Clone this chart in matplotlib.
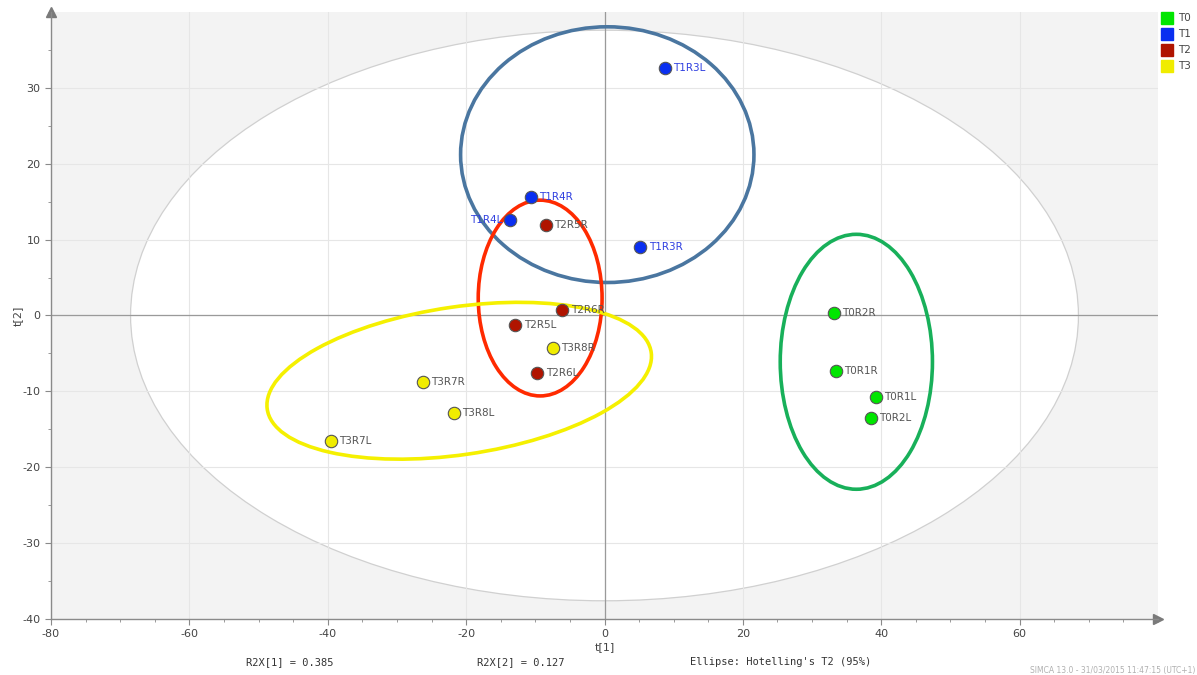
import numpy as np
import matplotlib.pyplot as plt
from matplotlib.patches import Ellipse, Rectangle
from matplotlib.ticker import MultipleLocator

plt.rcParams["axes.unicode_minus"] = False

# Score values t[1], t[2] per observation
names = ["T0R2R", "T0R1R", "T0R1L", "T0R2L",
         "T1R3L", "T1R4R", "T1R4L", "T1R3R",
         "T2R5R", "T2R6R", "T2R5L", "T2R6L",
         "T3R8R", "T3R7R", "T3R8L", "T3R7L"]
groups = ["T0"] * 4 + ["T1"] * 4 + ["T2"] * 4 + ["T3"] * 4
t1 = [33.1, 33.4, 39.2, 38.5,
      8.7, -10.6, -13.6, 5.2,
      -8.5, -6.1, -12.9, -9.7,
      -7.5, -26.2, -21.8, -39.6]
t2 = [0.3, -7.3, -10.7, -13.5,
      32.6, 15.6, 12.6, 9.0,
      11.9, 0.7, -1.3, -7.6,
      -4.3, -8.8, -12.8, -16.6]

group_names = ["T0", "T1", "T2", "T3"]
group_colors = {"T0": "#00e600", "T1": "#0a2ff0", "T2": "#b01400", "T3": "#f0ec00"}
label_colors = {"T0": "#555555", "T1": "#3040e0", "T2": "#555555", "T3": "#555555"}

# Hotelling's T2 (95%) semi-axes
hot_a, hot_b = 68.5, 37.6

# hand-drawn group outlines: center x, center y, width, height, angle
group_ellipses = {
    "T1": (0.4, 21.2, 42.4, 33.7, 0, "#4a76a0"),
    "T2": (-9.3, 2.3, 17.9, 25.8, 0, "#ff2a00"),
    "T3": (-21.0, -8.6, 56.0, 19.5, 7.5, "#f5f000"),
    "T0": (36.4, -6.1, 22.0, 33.6, 0, "#18b05a"),
}

fig = plt.figure(figsize=(11.97, 6.75), dpi=100)
ax = fig.add_axes([51 / 1197, 1 - 619 / 675, (1158 - 51) / 1197, (619 - 12) / 675])
ax.set_facecolor("#f3f3f3")
ax.set_xlim(-80, 80)
ax.set_ylim(-40, 40)

# white interior of the confidence ellipse
ax.add_patch(Ellipse((0, 0), 2 * hot_a, 2 * hot_b, facecolor="white",
                     edgecolor="#d0d0d0", lw=0.9, zorder=0.5))

ax.xaxis.set_major_locator(MultipleLocator(20))
ax.xaxis.set_minor_locator(MultipleLocator(5))
ax.yaxis.set_major_locator(MultipleLocator(10))
ax.yaxis.set_minor_locator(MultipleLocator(5))
ax.grid(True, which="major", color="#e6e6e6", lw=0.8, zorder=0.6)
ax.set_axisbelow(True)
ax.axhline(0, color="#9a9a9a", lw=0.9, zorder=0.7)
ax.axvline(0, color="#9a9a9a", lw=0.9, zorder=0.7)

for side in ["top", "right"]:
    ax.spines[side].set_visible(False)
for side in ["left", "bottom"]:
    ax.spines[side].set_color("#8a8a8a")
    ax.spines[side].set_linewidth(1.0)
ax.tick_params(which="both", colors="#8a8a8a", labelcolor="#444444",
               labelsize=8, direction="out")
ax.tick_params(which="major", length=4)
ax.tick_params(which="minor", length=2.5)
ax.set_xticks(np.arange(-80, 61, 20))
ax.set_yticks(np.arange(-40, 31, 10))
# arrow heads on the axes
ax.plot(1, 0, ">", transform=ax.transAxes, color="#7a7a7a", ms=7, clip_on=False)
ax.plot(0, 1, "^", transform=ax.transAxes, color="#7a7a7a", ms=7, clip_on=False)

ax.set_xlabel("t[1]", fontsize=8, color="#444444", labelpad=2)
ax.set_ylabel("t[2]", fontsize=8, color="#444444", labelpad=0)

for g, (cx, cy, w, h, ang, col) in group_ellipses.items():
    ax.add_patch(Ellipse((cx, cy), w, h, angle=ang, facecolor="none",
                         edgecolor=col, lw=2.6, zorder=2))

for name, g, x, y in zip(names, groups, t1, t2):
    ax.scatter(x, y, s=80, color=group_colors[g], edgecolor="#555555",
               linewidth=0.8, zorder=4)
    if name == "T1R4L":
        ax.annotate(name, (x, y), xytext=(-6, 0), textcoords="offset points",
                    ha="right", va="center", fontsize=7.5, color=label_colors[g], zorder=3)
    else:
        ax.annotate(name, (x, y), xytext=(6, 0), textcoords="offset points",
                    ha="left", va="center", fontsize=7.5, color=label_colors[g], zorder=3)

# legend in the top right corner
for i, g in enumerate(group_names):
    y0 = 1 - (12 + i * 16) / 675
    fig.patches.append(Rectangle((1161 / 1197, y0 - 12 / 675), 12 / 1197, 12 / 675,
                                 transform=fig.transFigure, color=group_colors[g]))
    fig.text(1178 / 1197, y0 - 6 / 675, g, fontsize=7.5, color="#444444", va="center")

mono = "DejaVu Sans Mono"
fig.text(290 / 1197, 1 - 662 / 675, "R2X[1] = 0.385", fontsize=7.5, family=mono,
         color="#333333", ha="center", va="center")
fig.text(521 / 1197, 1 - 662 / 675, "R2X[2] = 0.127", fontsize=7.5, family=mono,
         color="#333333", ha="center", va="center")
fig.text(781 / 1197, 1 - 662 / 675, "Ellipse: Hotelling's T2 (95%)", fontsize=7.5,
         family=mono, color="#333333", ha="center", va="center")
fig.text(1195 / 1197, 1 - 670 / 675, "SIMCA 13.0 - 31/03/2015 11:47:15 (UTC+1)",
         fontsize=5.5, color="#b0b0b0", ha="right", va="center")

fig.savefig("out.png", dpi=100, facecolor="white")
